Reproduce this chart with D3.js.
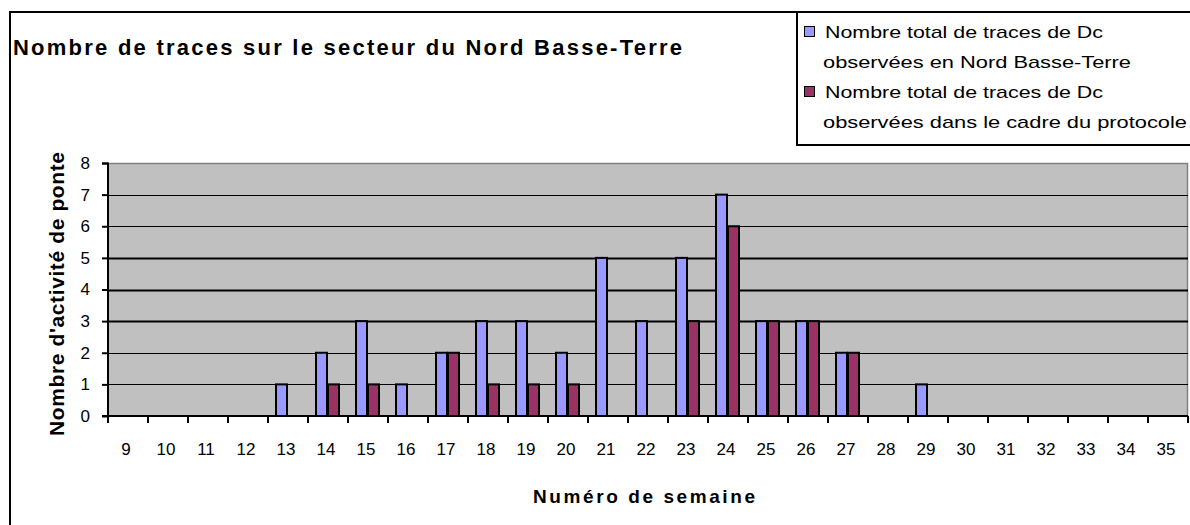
<!DOCTYPE html>
<html>
<head>
<meta charset="utf-8">
<script src="https://cdn.jsdelivr.net/npm/d3@7"></script>
<style>
  body { margin: 0; background: #fff; }
  svg text { font-family: "Liberation Sans", Arial, sans-serif; fill: #000; }
</style>
</head>
<body>
<svg id="chart" width="1190" height="525"></svg>
<script>
var weeks = d3.range(9, 36).map(String);
var seriesNames = ["Nombre total de traces de Dc observées en Nord Basse-Terre",
	"Nombre total de traces de Dc observées dans le cadre du protocole"];
var nordBT = [0, 0, 0, 0, 1, 2, 3, 1, 2, 3, 3, 2, 5, 3, 5, 7, 3, 3, 2, 0, 1, 0, 0, 0, 0, 0, 0];
var protocole = [0, 0, 0, 0, 0, 1, 1, 0, 2, 1, 1, 1, 0, 0, 3, 6, 3, 3, 2, 0, 0, 0, 0, 0, 0, 0, 0];
var yTicks = [0, 1, 2, 3, 4, 5, 6, 7, 8];
var colors = ["#9999ff", "#993366"];

var svg = d3.select("#chart"),
	margin = { top: 163, right: 2, bottom: 109, left: 108 },
	width = 1188 - margin.left,
	height = 416 - margin.top;

// outer frame (runs off the right and bottom)
svg.append("rect")
	.attr("x", 10).attr("y", 12)
	.attr("width", 1300).attr("height", 600)
	.attr("fill", "#fff").attr("stroke", "#000").attr("stroke-width", 2);

svg.append("text")
	.attr("x", 13).attr("y", 55)
	.attr("font-size", 22).attr("font-weight", "bold")
	.attr("textLength", 669).attr("lengthAdjust", "spacing")
	.text("Nombre de traces sur le secteur du Nord Basse-Terre");

var x = d3.scaleBand().domain(weeks).range([0, width]).padding(0);
var x1 = d3.scaleBand().domain([0, 1]).range([0, x.bandwidth()]).paddingOuter(0.667).paddingInner(0);
var y = d3.scaleLinear().domain([0, 8]).range([height, 0]);

var g = svg.append("g").attr("transform", "translate(" + margin.left + "," + margin.top + ")");

g.append("rect")
	.attr("width", width).attr("height", height)
	.attr("fill", "#c0c0c0");

g.append("path")
	.attr("d", "M0,0.5H" + (width - 0.5) + "V" + height)
	.attr("fill", "none").attr("stroke", "#808080").attr("stroke-width", 1.5);

g.selectAll(".grid")
	.data(yTicks.filter(function(d) { return d > 0 && d < 8; }))
	.enter().append("line")
	.attr("class", "grid")
	.attr("x1", 0).attr("x2", width)
	.attr("y1", function(d) { return Math.round(y(d)) + 0.5; })
	.attr("y2", function(d) { return Math.round(y(d)) + 0.5; })
	.attr("stroke", "#000")
	.attr("stroke-width", function(d) { return d >= 3 && d <= 5 ? 2 : 1; });

var data = weeks.map(function(w, i) {
	return { week: w, values: [nordBT[i], protocole[i]] };
});

var groups = g.selectAll(".week")
	.data(data)
	.enter().append("g")
	.attr("class", "week")
	.attr("transform", function(d) { return "translate(" + x(d.week) + ",0)"; });

groups.selectAll("rect")
	.data(function(d) { return d.values.map(function(v, k) { return { k: k, v: v }; }).filter(function(e) { return e.v > 0; }); })
	.enter().append("rect")
	.attr("x", function(d) { return x1(d.k); })
	.attr("y", function(d) { return y(d.v); })
	.attr("width", x1.bandwidth() - 1)
	.attr("height", function(d) { return height - y(d.v); })
	.attr("fill", function(d) { return colors[d.k]; })
	.attr("stroke", "#000").attr("stroke-width", 2);

// y axis
var yAxis = g.append("g")
	.call(d3.axisLeft(y).tickValues(yTicks).tickSize(6).tickPadding(12).tickFormat(d3.format("d")));
yAxis.select(".domain").attr("stroke-width", 2).attr("d", "M-6,0.5H0V" + height + "H-6");
yAxis.selectAll(".tick line").attr("stroke-width", 2);
yAxis.selectAll("text").attr("font-size", 17).attr("font-family", "Liberation Sans, Arial, sans-serif");

// x axis: labels centered, ticks at band boundaries
var xAxis = g.append("g")
	.attr("transform", "translate(0," + height + ")")
	.call(d3.axisBottom(x).tickSize(0).tickPadding(0));
xAxis.select(".domain").attr("stroke-width", 2).attr("d", "M0,0H" + width);
xAxis.selectAll("text")
	.attr("font-size", 17).attr("font-family", "Liberation Sans, Arial, sans-serif")
	.attr("y", 39).attr("dy", null).attr("dx", -2);
xAxis.selectAll(".sep")
	.data(weeks.concat(["end"]))
	.enter().append("line")
	.attr("class", "sep")
	.attr("x1", function(d, i) { return i < weeks.length ? x(d) : width; })
	.attr("x2", function(d, i) { return i < weeks.length ? x(d) : width; })
	.attr("y1", 0).attr("y2", 7)
	.attr("stroke", "#000").attr("stroke-width", 2);

svg.append("text")
	.attr("x", 644).attr("y", 503)
	.attr("text-anchor", "middle")
	.attr("font-size", 19).attr("font-weight", "bold")
	.attr("textLength", 222).attr("lengthAdjust", "spacing")
	.text("Numéro de semaine");

svg.append("text")
	.attr("transform", "translate(64,294) rotate(-90)")
	.attr("text-anchor", "middle")
	.attr("font-size", 21).attr("font-weight", "bold")
	.attr("textLength", 284).attr("lengthAdjust", "spacing")
	.text("Nombre d'activité de ponte");

// legend
var legend = svg.append("g");
legend.append("rect")
	.attr("x", 797).attr("y", 12)
	.attr("width", 500).attr("height", 133)
	.attr("fill", "#fff").attr("stroke", "#000").attr("stroke-width", 2);

var legendLines = [
	["Nombre total de traces de Dc", "observées en Nord Basse-Terre"],
	["Nombre total de traces de Dc", "observées dans le cadre du protocole"]
];
var legendWidths = [[278, 308], [278, 364]];

legendLines.forEach(function(lines, k) {
	var top = 26 + k * 60;
	legend.append("rect")
		.attr("x", 804.5).attr("y", top + 0.5)
		.attr("width", 10).attr("height", 10)
		.attr("fill", colors[k]).attr("stroke", "#000").attr("stroke-width", 1);
	lines.forEach(function(t, j) {
		legend.append("text")
			.attr("x", j === 0 ? 825 : 823).attr("y", top + 12 + j * 30)
			.attr("font-size", 17)
			.attr("textLength", legendWidths[k][j]).attr("lengthAdjust", "spacingAndGlyphs")
			.text(t);
	});
});
</script>
</body>
</html>
